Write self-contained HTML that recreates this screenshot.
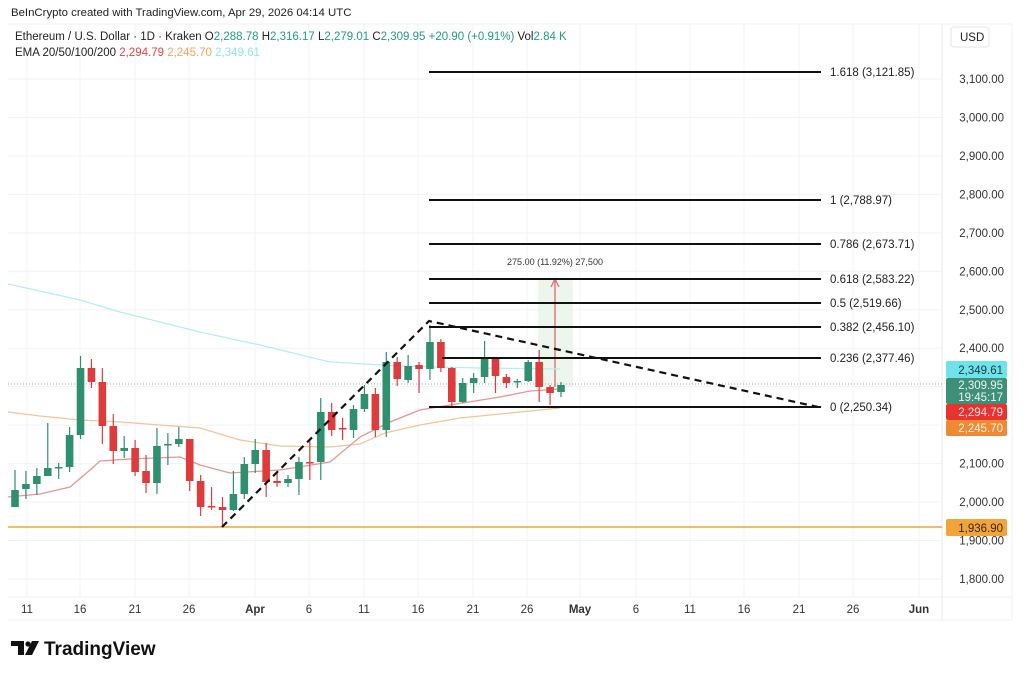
<!DOCTYPE html>
<html><head><meta charset="utf-8"><style>
body{margin:0;background:#fff;width:1024px;height:678px;overflow:hidden;font-family:"Liberation Sans",sans-serif}
</style></head><body>
<svg id="s" width="1024" height="678" xmlns="http://www.w3.org/2000/svg" font-family="Liberation Sans, sans-serif">
<rect width="1024" height="678" fill="#fff"/>
<g id="grid" stroke="#f0f3f6" stroke-width="1"></g>
<line x1="942" y1="24" x2="942" y2="620" stroke="#e6e8ec"/>
<line x1="8" y1="597" x2="1012" y2="597" stroke="#eef0f3"/>
<line x1="8" y1="620" x2="1012" y2="620" stroke="#eef0f3"/>
<line x1="1012" y1="24" x2="1012" y2="620" stroke="#eef0f3"/>
<line x1="8" y1="24" x2="1012" y2="24" stroke="#eef0f3"/>
<text x="11" y="16" font-size="11.4" fill="#222">BeInCrypto created with TradingView.com, Apr 29, 2026 04:14 UTC</text>
<text x="15" y="40" font-size="11.5" fill="#222">Ethereum / U.S. Dollar · 1D · Kraken  O<tspan fill="#22998a">2,288.78</tspan>  H<tspan fill="#22998a">2,316.17</tspan>  L<tspan fill="#22998a">2,279.01</tspan>  C<tspan fill="#22998a">2,309.95</tspan>  <tspan fill="#22998a">+20.90 (+0.91%)</tspan>  Vol<tspan fill="#22998a">2.84 K</tspan></text>
<text x="15" y="56" font-size="11.5" fill="#222">EMA 20/50/100/200  <tspan fill="#e04545">2,294.79</tspan>  <tspan fill="#f0a45a">2,245.70</tspan>  <tspan fill="#8ee6ef">2,349.61</tspan></text>
<rect x="951" y="27" width="38" height="20" fill="#fff" stroke="#e3e5e8" rx="3"/>
<text x="960" y="41" font-size="11.5" fill="#222">USD</text>
<g id="axis" font-size="11.5" fill="#333" text-anchor="end"></g>
<g id="dates" font-size="11.5" fill="#333" text-anchor="middle"></g>
<rect x="538" y="279" width="35" height="108" fill="#e8f4e8" opacity="0.8"/>
<line x1="555" y1="387" x2="555" y2="280" stroke="#e06a6a" stroke-width="1.3"/>
<path d="M551 287 L555 279 L559 287" fill="none" stroke="#e06a6a" stroke-width="1.3"/>
<text x="555" y="265" font-size="9" fill="#333" text-anchor="middle">275.00 (11.92%) 27,500</text>
<line x1="8" y1="384" x2="942" y2="384" stroke="#9aa" stroke-dasharray="1,2"/>
<g id="ema" fill="none" stroke-width="1.3">
<polyline stroke="#b5eef2" points="8,284 40,291 80,300 120,312 200,332 260,345 330,362 400,366 480,368 560,369"/>
<polyline stroke="#f3c49a" points="8,412 40,416 80,420 120,422 160,425 200,428 240,440 280,446 330,447 360,444 385,433 420,425 460,418 500,414 540,410 560,408"/>
<polyline stroke="#e79595" points="8,497 40,494 70,487 90,470 100,461 130,459 180,457 200,465 230,473 280,470 330,462 360,437 390,422 420,410 450,405 500,397 530,391 560,389"/>
</g>
<line x1="8" y1="527" x2="942" y2="527" stroke="#f2a33a" stroke-width="1.5"/>
<g id="candles"></g>
<g stroke="#111" stroke-width="2" fill="none">
<line x1="429" y1="72" x2="821" y2="72"/>
<line x1="429" y1="200" x2="821" y2="200"/>
<line x1="429" y1="244" x2="821" y2="244"/>
<line x1="429" y1="279" x2="821" y2="279"/>
<line x1="429" y1="303" x2="821" y2="303"/>
<line x1="429" y1="327" x2="821" y2="327"/>
<line x1="442" y1="358" x2="821" y2="358"/>
<line x1="429" y1="407" x2="821" y2="407"/>
<path d="M222 527 L429 321 L818 407" stroke-dasharray="7,5" stroke-width="2.2"/>
</g>
<g font-size="11.5" fill="#222">
<text x="830" y="76">1.618 (3,121.85)</text>
<text x="830" y="204">1 (2,788.97)</text>
<text x="830" y="248">0.786 (2,673.71)</text>
<text x="830" y="283">0.618 (2,583.22)</text>
<text x="830" y="307">0.5 (2,519.66)</text>
<text x="830" y="331">0.382 (2,456.10)</text>
<text x="830" y="362">0.236 (2,377.46)</text>
<text x="830" y="411">0 (2,250.34)</text>
</g>
<g font-size="11.5" text-anchor="end">
<rect x="946" y="361" width="61" height="17" fill="#6fe3ec" rx="2"/><text x="1003" y="374" fill="#1a3a40">2,349.61</text>
<rect x="946" y="378" width="61" height="26" fill="#3f8f78" rx="2"/><text x="1003" y="389" fill="#e8f5ef">2,309.95</text><text x="1003" y="401" fill="#e8f5ef">19:45:17</text>
<rect x="946" y="404" width="61" height="16" fill="#e5332e" rx="2"/><text x="1003" y="416" fill="#fde">2,294.79</text>
<rect x="946" y="420" width="61" height="16" fill="#f08a32" rx="2"/><text x="1003" y="432" fill="#fff3e5">2,245.70</text>
<rect x="946" y="519" width="61" height="17" fill="#f2a33a" rx="2"/><text x="1003" y="532" fill="#3a2a10">1,936.90</text>
</g>
<g transform="translate(11,641)" fill="#111">
<path d="M0 0 H13 V14 H7 V5 H0 Z"/><circle cx="17" cy="3" r="2.6"/><path d="M21 0 H28 L21 14 H14 Z"/>
</g>
<text x="44" y="655" font-size="19" font-weight="bold" fill="#111">TradingView</text>
</svg>
<script>
var NS="http://www.w3.org/2000/svg";
function el(p,t,a){var e=document.createElementNS(NS,t);for(var k in a)e.setAttribute(k,a[k]);p.appendChild(e);return e;}
var grid=document.getElementById('grid'),axis=document.getElementById('axis'),dates=document.getElementById('dates');
for(var i=0;i<14;i++){var p=3100-i*100,y=79+i*38.46;el(grid,'line',{x1:8,x2:942,y1:y,y2:y});
 var t=el(axis,'text',{x:1004,y:y+4});t.textContent=(p/1000|0)+','+String(p%1000).padStart(3,'0')+'.00';}
var d=[[27,'11'],[80,'16'],[135,'21'],[189,'26'],[255,'Apr'],[309,'6'],[364,'11'],[418,'16'],[473,'21'],[527,'26'],[580,'May'],[636,'6'],[690,'11'],[744,'16'],[799,'21'],[853,'26'],[919,'Jun']];
d.forEach(function(q){el(grid,'line',{x1:q[0],x2:q[0],y1:24,y2:597});var t=el(dates,'text',{x:q[0],y:613});if(isNaN(q[1]))t.setAttribute('font-weight','bold');t.textContent=q[1];});
var c=[[507,490,470,507],[489,484,471,499],[484,476,468,495],[476,468,423,476],[468,467,463,479],[467,435,427,472],[435,368,356,439],[368,382,359,388],[382,426,368,444],[426,451,414,464],[451,448,436,458],[448,472,440,476],[471,483,455,493],[483,446,428,494],[445,444,433,465],[444,439,427,447],[439,481,439,491],[481,507,475,516],[506,506,487,510],[507,510,497,527],[510,494,471,511],[494,464,457,499],[464,450,439,473],[450,482,443,497],[481,483,473,487],[483,479,475,487],[479,462,457,495],[462,462,440,480],[462,412,398,480],[412,430,403,436],[428,428,418,440],[430,409,405,438],[409,394,385,412],[394,430,388,437],[430,362,352,437],[362,379,357,386],[380,366,355,383],[365,369,362,393],[369,342,325,380],[342,368,339,372],[368,402,367,407],[402,383,378,403],[383,378,373,393],[377,358,341,383],[358,376,357,393],[377,383,374,388],[382,381,379,388],[381,362,360,382],[362,387,350,402],[387,393,385,405],[392,385,382,397]];
var g=document.getElementById('candles');
c.forEach(function(k,i){var x=15+i*10.92,up=k[1]<k[0],col=up?'#2f8f6f':'#de3c3c';
 el(g,'line',{x1:x,x2:x,y1:k[2],y2:k[3],stroke:col,'stroke-width':1.2});
 var top=Math.min(k[0],k[1]),h=Math.max(1.5,Math.abs(k[0]-k[1]));
 el(g,'rect',{x:x-3.8,y:top,width:7.6,height:h,fill:col});});
</script>
</body></html>
